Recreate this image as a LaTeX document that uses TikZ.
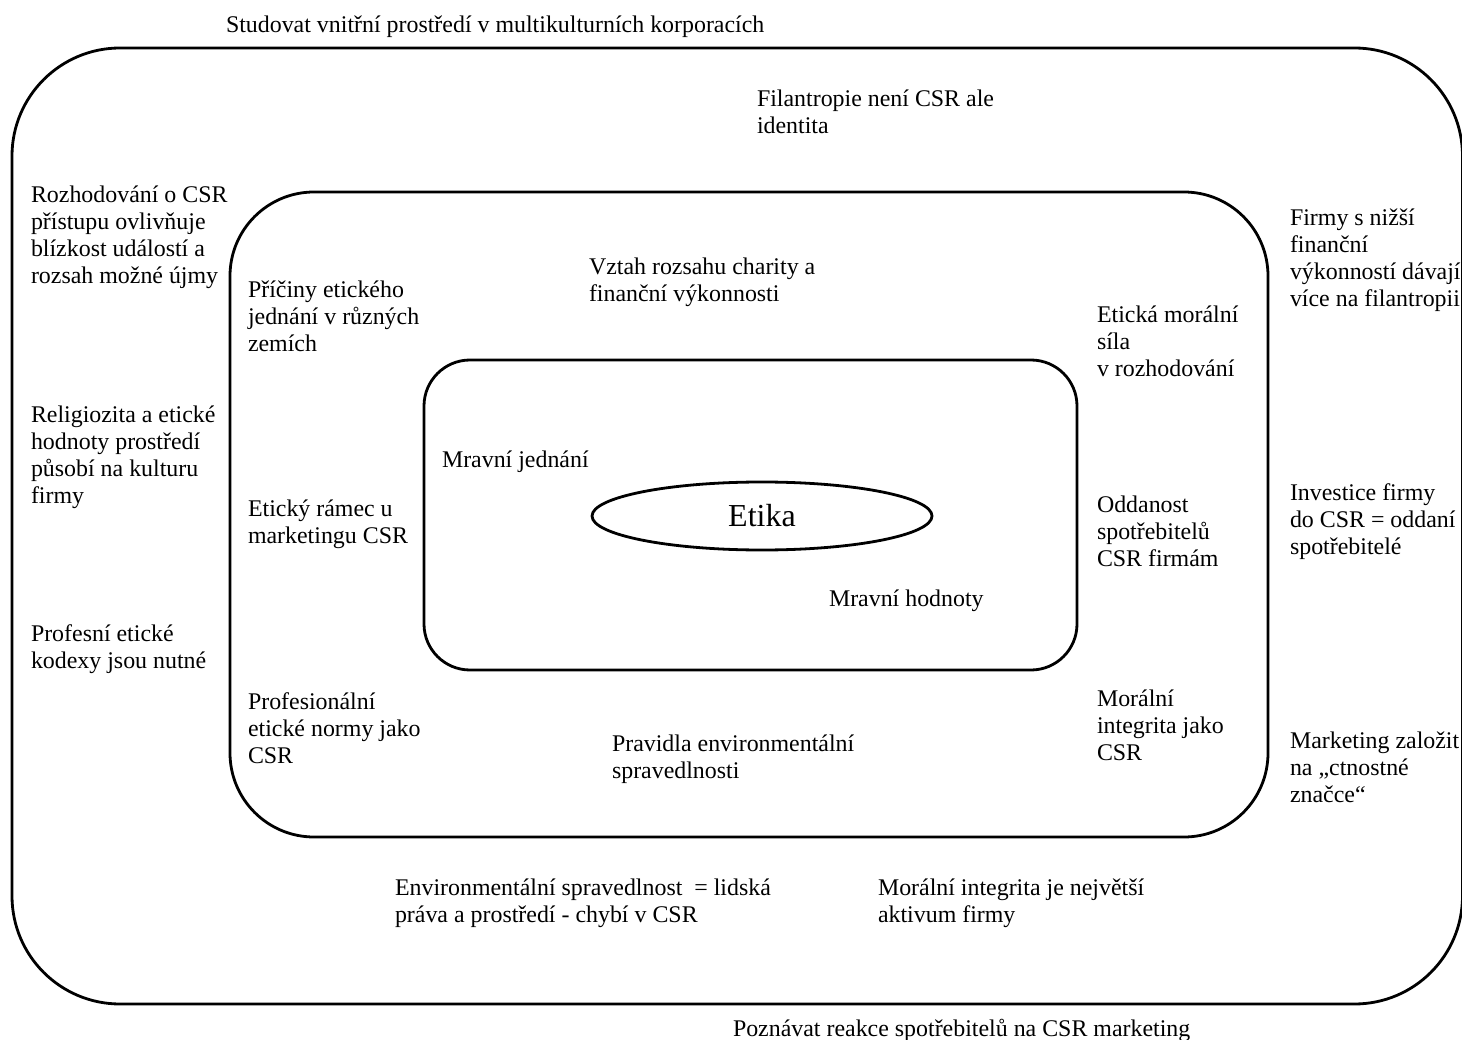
\documentclass[tikz,border=0pt]{standalone}
\usepackage{fontspec}
\setmainfont{Liberation Serif}
\usetikzlibrary{shapes.geometric}

\tikzset{
  frame/.style={draw=black, line width=2.8pt},
  lbl/.style={anchor=north west, inner sep=0pt, outer sep=0pt, align=left,
    yshift=19.1pt, font=\fontsize{23.9}{27.3}\selectfont},
  core/.style={draw=black, line width=2.8pt, ellipse, inner sep=0pt,
    minimum width=340pt, minimum height=68pt,
    font=\fontsize{32}{38}\selectfont}
}

\begin{document}
\begin{tikzpicture}[x=1pt, y=-1pt]
  \useasboundingbox (0,0) rectangle (1462,1040);
  \fill[white] (0,0) rectangle (1462,1040);

  % nested rounded frames
  \draw[frame, rounded corners=108pt] (12,48) rectangle (1462.5,1004);
  \draw[frame, rounded corners=84pt] (230,192) rectangle (1268,837);
  \draw[frame, rounded corners=46pt] (424,360) rectangle (1077,670);

  % centre
  \node[core] (etika) at (762,516) {Etika};

  % innermost ring
  \node[lbl] (mj) at (442,467) {\strut Mravní jednání};
  \node[lbl] (mh) at (829,606) {\strut Mravní hodnoty};

  % middle ring
  \node[lbl] (pric) at (248,297) {\strut Příčiny etického\\jednání v různých\\zemích};
  \node[lbl] (vztah) at (589,274) {\strut Vztah rozsahu charity a\\finanční výkonnosti};
  \node[lbl] (sila) at (1097,322) {\strut Etická morální\\síla\\v rozhodování};
  \node[lbl] (ramec) at (248,516) {\strut Etický rámec u\\marketingu CSR};
  \node[lbl] (oddan) at (1097,512) {\strut Oddanost\\spotřebitelů\\CSR firmám};
  \node[lbl] (normy) at (248,709) {\strut Profesionální\\etické normy jako\\CSR};
  \node[lbl] (pravid) at (612,751) {\strut Pravidla environmentální\\spravedlnosti};
  \node[lbl] (integ) at (1097,706) {\strut Morální\\integrita jako\\CSR};

  % outer ring
  \node[lbl] (filan) at (757,106) {\strut Filantropie není CSR ale\\identita};
  \node[lbl] (rozh) at (31,202) {\strut Rozhodování o CSR\\přístupu ovlivňuje\\blízkost událostí a\\rozsah možné újmy};
  \node[lbl] (relig) at (31,422) {\strut Religiozita a etické\\hodnoty prostředí\\působí na kulturu\\firmy};
  \node[lbl] (kodex) at (31,641) {\strut Profesní etické\\kodexy jsou nutné};
  \node[lbl] (firmy) at (1290,225) {\strut Firmy s nižší\\finanční\\výkonností dávají\\více na filantropii};
  \node[lbl] (invest) at (1290,500) {\strut Investice firmy\\do CSR = oddaní\\spotřebitelé};
  \node[lbl] (znacka) at (1290,748) {\strut Marketing založit\\na „ctnostné\\značce“};
  \node[lbl] (envsp) at (395,895) {\strut Environmentální spravedlnost \ = lidská\\práva a prostředí - chybí v CSR};
  \node[lbl] (aktiv) at (878,895) {\strut Morální integrita je největší\\aktivum firmy};

  % outside the frames
  \node[lbl] (stud) at (226,32) {\strut Studovat vnitřní prostředí v multikulturních korporacích};
  \node[lbl] (pozn) at (733,1036) {\strut Poznávat reakce spotřebitelů na CSR marketing};
\end{tikzpicture}
\end{document}
